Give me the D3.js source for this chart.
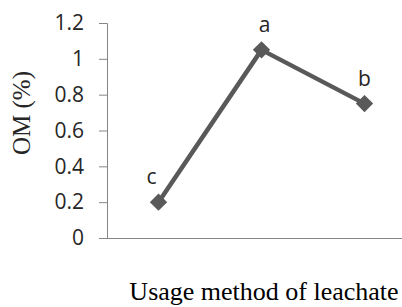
<!DOCTYPE html>
<html>
<head>
<meta charset="utf-8">
<script src="https://cdn.jsdelivr.net/npm/d3@7"></script>
<style>
  html, body { margin: 0; padding: 0; background: #fff; }
</style>
</head>
<body>
<div id="chart"></div>
<script>
const categories = ["Method 1", "Method 2", "Method 3"];
const omValues = [0.2, 1.05, 0.75];
const letters = ["c", "a", "b"];
const yTicks = [0, 0.2, 0.4, 0.6, 0.8, 1, 1.2];

const width = 402;
const height = 307;
const margin = { left: 107, top: 23, bottom: 69 };
const plotRight = 416; // plot area runs past the right edge
const baseline = height - margin.bottom;

const svg = d3.select("#chart")
  .append("svg")
  .attr("width", width)
  .attr("height", height);

const x = d3.scaleBand()
  .domain(categories)
  .range([margin.left, plotRight])
  .padding(0);

const y = d3.scaleLinear()
  .domain([0, 1.2])
  .range([baseline, margin.top]);

const sans = "'Open Sans', sans-serif";
const serif = "'Liberation Serif', 'Times New Roman', serif";
const axisColor = "#868686";
const lineColor = "#595959";

// y axis
const yAxis = svg.append("g")
  .attr("transform", `translate(${margin.left},0)`)
  .call(d3.axisLeft(y).tickValues(yTicks).tickSize(8).tickPadding(15)
    .tickFormat(d3.format("")));
yAxis.select(".domain").attr("stroke", axisColor).attr("stroke-width", 1);
yAxis.selectAll(".tick line").attr("stroke", axisColor);
yAxis.selectAll(".tick text")
  .attr("fill", "#262626")
  .style("font-family", sans)
  .style("font-size", "21px");

// x axis line only
svg.append("line")
  .attr("x1", margin.left)
  .attr("x2", plotRight)
  .attr("y1", y(0) + 0.5)
  .attr("y2", y(0) + 0.5)
  .attr("stroke", axisColor)
  .attr("stroke-width", 1);

const cx = (d, i) => x(categories[i]) + x.bandwidth() / 2;

// series line
svg.append("path")
  .datum(omValues)
  .attr("fill", "none")
  .attr("stroke", lineColor)
  .attr("stroke-width", 4.5)
  .attr("stroke-linejoin", "round")
  .attr("d", d3.line().x(cx).y((d) => y(d)));

// diamond markers
const diamond = d3.symbol().type(d3.symbolSquare).size(150);
svg.append("g")
  .selectAll("path")
  .data(omValues)
  .join("path")
  .attr("d", diamond)
  .attr("fill", lineColor)
  .attr("transform", (d, i) => `translate(${cx(d, i)},${y(d)}) rotate(45)`);

// significance letters
const labelDx = [-7, 3, 0];
svg.append("g")
  .selectAll("text")
  .data(omValues)
  .join("text")
  .attr("x", (d, i) => cx(d, i) + labelDx[i])
  .attr("y", (d) => y(d) - 18)
  .attr("text-anchor", "middle")
  .attr("fill", "#262626")
  .style("font-family", sans)
  .style("font-size", "21px")
  .text((d, i) => letters[i]);

// axis titles
svg.append("text")
  .attr("transform", `translate(30,113) rotate(-90)`)
  .attr("text-anchor", "middle")
  .attr("fill", "#262626")
  .style("font-family", serif)
  .style("font-size", "25px")
  .text("OM (%)");

svg.append("text")
  .attr("x", 264)
  .attr("y", 300)
  .attr("text-anchor", "middle")
  .attr("fill", "#000")
  .style("font-family", serif)
  .style("font-size", "26px")
  .text("Usage method of leachate");
</script>
</body>
</html>
